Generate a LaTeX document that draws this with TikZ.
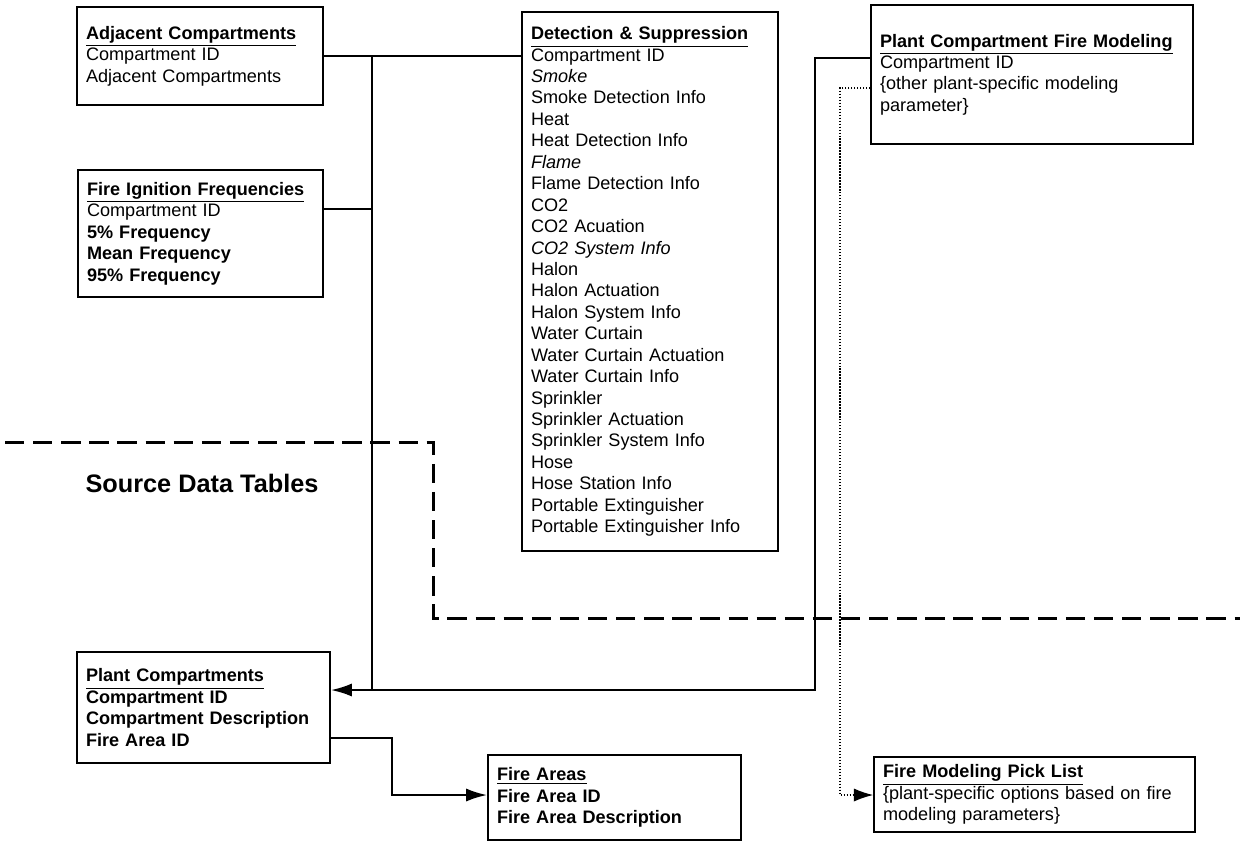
\documentclass[tikz,border=0pt]{standalone}
\usepackage{fontspec}
\setmainfont{Liberation Sans}
\usetikzlibrary{arrows.meta}
\tikzset{
  tablebox/.style={draw,line width=1pt,align=left,inner xsep=0.18cm,inner ysep=0pt,
    font=\fontsize{10.3}{12.2}\selectfont},
  conn/.style={line width=1.3pt},
  linkarrow/.style={conn,-{Latex[length=12pt,width=7.5pt]}},
  picklink/.style={line width=0.7pt,densely dotted,-{Latex[length=11pt,width=7.5pt]}},
  zone/.style={line width=1.7pt,dash pattern=on 11pt off 5pt}
}
\newcommand{\tabtitle}[1]{\underline{\textbf{#1}}}
\begin{document}
\begin{tikzpicture}[x=0.02cm,y=-0.02cm]
                \useasboundingbox(0,0)rectangle(1240,843);
                % tables
                \node[tablebox,minimum width=4.92cm,minimum height=1.96cm,text width=4.56cm](adj)at(200,56)
                    {\tabtitle{Adjacent Compartments}\\Compartment ID\\Adjacent Compartments};
                \node[tablebox,minimum width=4.9cm,minimum height=2.54cm,text width=4.54cm](freq)at(200.5,233.5)
                    {\tabtitle{Fire Ignition Frequencies}\\Compartment ID\\\textbf{5\% Frequency}\\\textbf{Mean Frequency}\\\textbf{95\% Frequency}};
                \node[tablebox,minimum width=5.12cm,minimum height=10.78cm,text width=4.76cm](det)at(650,281.5)
                    {\tabtitle{Detection \& Suppression}\\Compartment ID\\\textit{Smoke}\\Smoke Detection Info\\Heat\\Heat Detection Info\\
                     \textit{Flame}\\Flame Detection Info\\CO2\\CO2 Acuation\\\textit{CO2 System Info}\\Halon\\Halon Actuation\\
                     Halon System Info\\Water Curtain\\Water Curtain Actuation\\Water Curtain Info\\Sprinkler\\Sprinkler Actuation\\
                     Sprinkler System Info\\Hose\\Hose Station Info\\Portable Extinguisher\\Portable Extinguisher Info};
                \node[tablebox,minimum width=6.44cm,minimum height=2.78cm,text width=6.08cm](model)at(1032,74.5)
                    {\tabtitle{Plant Compartment Fire Modeling}\\Compartment ID\\\{other plant-specific modeling\\parameter\}};
                \node[tablebox,minimum width=5.06cm,minimum height=2.22cm,text width=4.7cm](plant)at(203.5,707.5)
                    {\tabtitle{Plant Compartments}\\\textbf{Compartment ID}\\\textbf{Compartment Description}\\\textbf{Fire Area ID}};
                \node[tablebox,minimum width=5.06cm,minimum height=1.7cm,text width=4.7cm](area)at(614.5,797.5)
                    {\tabtitle{Fire Areas}\\\textbf{Fire Area ID}\\\textbf{Fire Area Description}};
                \node[tablebox,minimum width=6.42cm,minimum height=1.5cm,text width=6.06cm](pick)at(1034.5,794.5)
                    {\tabtitle{Fire Modeling Pick List}\\\{plant-specific options based on fire\\modeling parameters\}};
                \node[font=\fontsize{14.4}{17}\selectfont\bfseries](zonelabel)at(202,483){Source Data Tables};
                % junction points
                \coordinate(j1)at(372,56);
                \coordinate(j2)at(372,209);
                \coordinate(j3)at(372,690);
                \coordinate(k1)at(815,58);
                \coordinate(k2)at(815,690);
                \coordinate(p1)at(840,88);
                \coordinate(p2)at(840,795);
                \coordinate(f1)at(392,738);
                \coordinate(f2)at(392,795);
                % links
                \draw[conn](adj.east)--(det.west|-adj.east);
                \draw[conn](j1)--(j3);
                \draw[conn](freq.east|-j2)--(j2);
                \draw[linkarrow](model.west|-k1)--(k1)--(k2)--(plant.east|-k2);
                \draw[picklink](model.west|-p1)--(p1)--(p2)--(pick.west|-p2);
                \draw[linkarrow](plant.east|-f1)--(f1)--(f2)--(area.west|-f2);
                % boundary of source tables
                \draw[zone](5,442)--(433,442)--(433,618)--(1240,618);
            \end{tikzpicture}
\end{document}
